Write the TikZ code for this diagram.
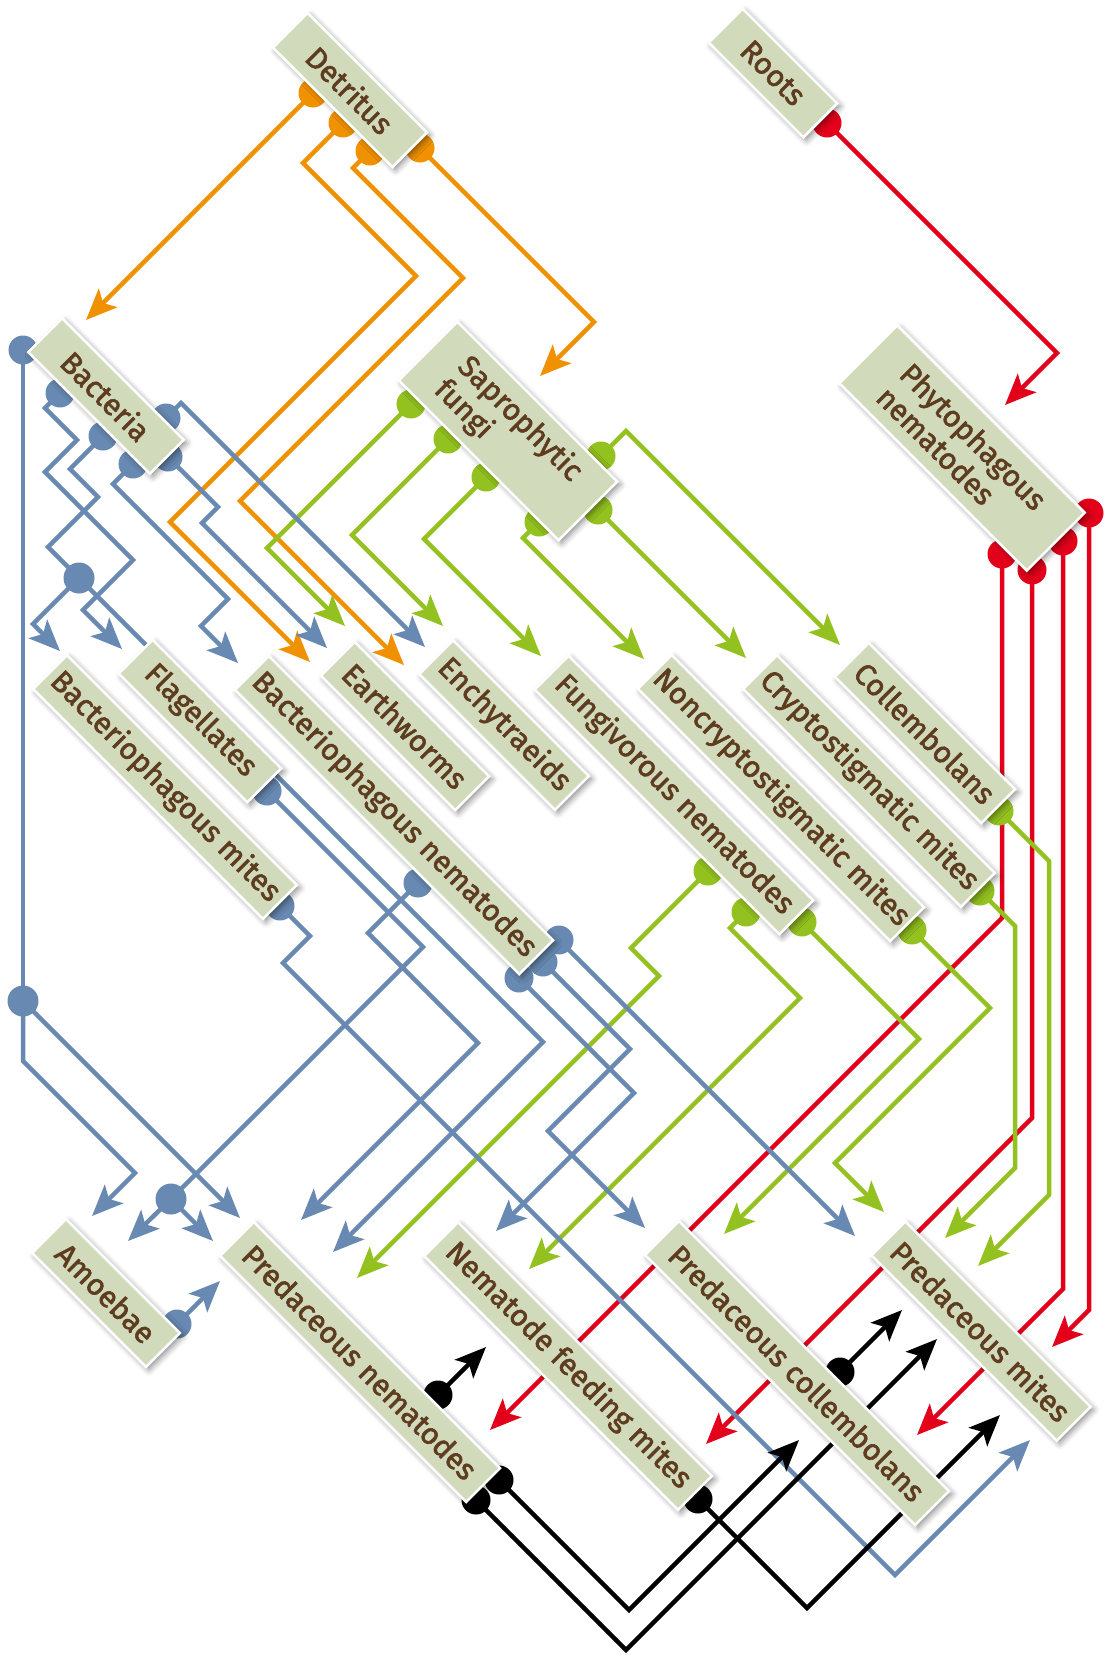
\documentclass[tikz,border=0pt]{standalone}
\usepackage{fontspec}
\newfontfamily\boxfont{Fira Sans}[FakeBold=2]
\usetikzlibrary{arrows.meta,shadows.blur}
\definecolor{boxfill}{RGB}{209,218,187}
\definecolor{boxtext}{RGB}{94,60,32}
\definecolor{cblue}{RGB}{104,137,178}
\definecolor{corange}{RGB}{239,145,0}
\definecolor{cgreen}{RGB}{147,193,31}
\definecolor{cred}{RGB}{226,0,26}
\pgfdeclarelayer{lines}
\pgfdeclarelayer{dots}
\pgfsetlayers{lines,dots,main}
\tikzset{
  taxon/.style={rotate=-45, fill=boxfill, draw=white, line width=2.5pt,
    text=boxtext, font=\boxfont\fontsize{30}{33}\selectfont, inner sep=0pt,
    minimum height=48pt, align=center,
    blur shadow={shadow xshift=3pt, shadow yshift=-3pt, shadow blur radius=6pt, shadow opacity=45}},
  dot/.style={circle, fill=#1, minimum size=29pt, inner sep=0pt},
  bigdot/.style={circle, fill=#1, minimum size=31pt, inner sep=0pt},
  link/.style={line width=4.5pt, draw=#1, -{Stealth[length=31pt,width=26pt,inset=7pt]}},
  plain/.style={line width=4.5pt, draw=#1}
}
\newcommand\dotat[3]{\node[dot=#1] (#2) at #3 {};}
\begin{document}
\begin{tikzpicture}[x=1pt,y=-1pt]
\useasboundingbox (0,0) rectangle (1113,1657);

% ---------- boxes ----------
\node[taxon, minimum width=169pt, minimum height=49pt] (det) at (350,90) {Detritus};
\node[taxon, minimum width=134pt] (roots) at (773,73) {Roots};
\node[taxon, minimum width=172pt] (bact) at (106,396) {Bacteria};
\node[taxon, minimum width=226pt, minimum height=83pt, align=left] (sapro) at (508,431) {Saprophytic\\fungi};
\node[taxon, minimum width=265pt, minimum height=82pt, align=left] (phyto) at (962,448) {Phytophagous\\nematodes};
\node[taxon, minimum width=325pt] (bmites) at (165,787) {Bacteriophagous mites};
\node[taxon, minimum width=182pt] (flag) at (200,721) {Flagellates};
\node[taxon, minimum width=402pt] (bnem) at (394,815) {Bacteriophagous nematodes};
\node[taxon, minimum width=190pt] (earth) at (405,726) {Earthworms};
\node[taxon, minimum width=192pt] (ench) at (504,725) {Enchytraeids};
\node[taxon, minimum width=346pt] (fnem) at (674,795) {Fungivorous nematodes};
\node[taxon, minimum width=357pt] (ncm) at (781,798) {Noncryptostigmatic mites};
\node[taxon, minimum width=308pt] (cm) at (869,781) {Cryptostigmatic mites};
\node[taxon, minimum width=207pt] (coll) at (925,733) {Collembolans};
\node[taxon, minimum width=161pt] (amoeb) at (106,1293) {Amoebae};
\node[taxon, minimum width=348pt] (pnem) at (360,1362) {Predaceous nematodes};
\node[taxon, minimum width=359pt] (nfm) at (568,1366) {Nematode feeding mites};
\node[taxon, minimum width=382pt] (pcoll) at (797,1373) {Predaceous collembolans};
\node[taxon, minimum width=262pt] (pmites) at (981,1331) {Predaceous mites};

% ---------- attachment dots ----------
\begin{pgfonlayer}{dots}
\dotat{corange}{od1}{(313,93)}
\dotat{corange}{od2}{(343,123)}
\dotat{corange}{od3}{(370,151)}
\dotat{corange}{od4}{(420,148)}
\dotat{cred}{rr}{(827,123)}
\dotat{cred}{p1}{(1002,554)}
\dotat{cred}{p2}{(1032,570)}
\dotat{cred}{p3}{(1063,541)}
\dotat{cred}{p4}{(1089,513)}
\dotat{cgreen}{g1}{(411,404)}
\dotat{cgreen}{g2}{(448,439)}
\dotat{cgreen}{g3}{(486,477)}
\dotat{cgreen}{g4}{(539,522)}
\dotat{cgreen}{g5}{(598,510)}
\dotat{cgreen}{g6}{(601,456)}
\dotat{cgreen}{f1}{(708,871)}
\dotat{cgreen}{f2}{(746,912)}
\dotat{cgreen}{f3}{(802,922)}
\dotat{cgreen}{n1}{(912,930)}
\dotat{cgreen}{c1}{(980,891)}
\dotat{cgreen}{co1}{(999,811)}
\dotat{cblue}{b1}{(23,350)}
\dotat{cblue}{b2}{(60,393)}
\dotat{cblue}{b3}{(103,436)}
\dotat{cblue}{b4}{(133,464)}
\dotat{cblue}{b5}{(166,418)}
\dotat{cblue}{b6}{(168,457)}
\dotat{cblue}{fl}{(267,791)}
\dotat{cblue}{bm}{(280,906)}
\dotat{cblue}{bn1}{(418,883)}
\dotat{cblue}{bn2}{(519,978)}
\dotat{cblue}{bn3}{(543,962)}
\dotat{cblue}{bn4}{(559,940)}
\dotat{cblue}{am}{(177,1324)}
\node[bigdot=cblue] (j1) at (79,578) {};
\node[bigdot=cblue] (j2) at (23,1001) {};
\node[bigdot=cblue] (j3) at (171,1199) {};
\dotat{black}{pn1}{(438,1395)}
\dotat{black}{pn2}{(499,1480)}
\dotat{black}{pn3}{(476,1500)}
\dotat{black}{nf}{(698,1499)}
\dotat{black}{pc}{(840,1372)}
\end{pgfonlayer}

% ---------- connectors ----------
\begin{pgfonlayer}{lines}
% detritus
\draw[link=corange] (od1.center) -- (86,320) coordinate (to1);
\draw[link=corange] (od2.center) -- (303,163) -- (416,276) -- (170,522) -- (310,662) coordinate (to2);
\draw[link=corange] (od3.center) -- (353,168) -- (463,278) -- (240,501) -- (404,665) coordinate (to3);
\draw[link=corange] (od4.center) -- (594,322) -- (540,376) coordinate (to4);
% roots and phytophagous nematodes
\draw[link=cred] (rr.center) -- (1057,353) -- (1005,405) coordinate (tr0);
\draw[link=cred] (p1.center) -- (1002,918) -- (490,1430) coordinate (tr1);
\draw[link=cred] (p2.center) -- (1032,1118) -- (706,1444) coordinate (tr2);
\draw[link=cred] (p3.center) -- (1063,1289) -- (917,1435) coordinate (tr3);
\draw[link=cred] (p4.center) -- (1089,1310) -- (1052,1347) coordinate (tr4);
% saprophytic fungi
\draw[link=cgreen] (g1.center) -- (267,548) -- (345,626) coordinate (tg1);
\draw[link=cgreen] (g2.center) -- (352,535) -- (443,626) coordinate (tg2);
\draw[link=cgreen] (g3.center) -- (424,539) -- (541,656) coordinate (tg3);
\draw[link=cgreen] (g4.center) -- (523,538) -- (644,659) coordinate (tg4);
\draw[link=cgreen] (g5.center) -- (746,658) coordinate (tg5);
\draw[link=cgreen] (g6.center) -- (626,431) -- (840,645) coordinate (tg6);
% fungal feeders
\draw[link=cgreen] (f1.center) -- (631,948) -- (659,976) -- (357,1278) coordinate (tf1);
\draw[link=cgreen] (f2.center) -- (730,928) -- (800,998) -- (529,1269) coordinate (tf2);
\draw[link=cgreen] (f3.center) -- (919,1039) -- (724,1234) coordinate (tf3);
\draw[link=cgreen] (n1.center) -- (990,1008) -- (835,1163) -- (884,1212) coordinate (tn1);
\draw[link=cgreen] (c1.center) -- (1015,926) -- (1015,1168) -- (945,1238) coordinate (tc1);
\draw[link=cgreen] (co1.center) -- (1049,861) -- (1049,1195) -- (978,1266) coordinate (tco1);
% bacteria
\draw[plain=cblue] (b1.center) -- (j2.center);
\draw[link=cblue] (j2.center) -- (240,1218) coordinate (tj2a);
\draw[link=cblue] (j2.center) -- (23,1061) -- (135,1173) -- (92,1216) coordinate (tj2b);
\draw[link=cblue] (b2.center) -- (45,408) -- (77,440) -- (45,472) -- (133,560) -- (83,610) -- (122,649) coordinate (tb2);
\draw[plain=cblue] (b3.center) -- (70,469) -- (98,497) -- (48,547) -- (j1.center);
\draw[link=cblue] (j1.center) -- (33,624) -- (60,651) coordinate (tj1a);
\draw[link=cblue] (j1.center) -- (543,1042) -- (333,1252) coordinate (tj1b);
\draw[link=cblue] (b4.center) -- (113,484) -- (228,599) -- (201,626) -- (238,663) coordinate (tb4);
\draw[link=cblue] (b5.center) -- (181,403) -- (425,647) coordinate (tb5);
\draw[link=cblue] (b6.center) -- (218,507) -- (202,523) -- (327,648) coordinate (tb6);
% bacterial feeders
\draw[plain=cblue] (fl.center) -- (423,947) -- (j3.center);
\draw[link=cblue] (j3.center) -- (128,1241) coordinate (tj3a);
\draw[link=cblue] (j3.center) -- (213,1241) coordinate (tj3b);
\draw[link=cblue] (bm.center) -- (310,936) -- (283,963) -- (895,1575) -- (1030,1440) coordinate (tbm);
\draw[link=cblue] (bn1.center) -- (368,933) -- (478,1043) -- (301,1220) coordinate (tbn1);
\draw[link=cblue] (bn2.center) -- (634,1093) -- (496,1231) coordinate (tbn2);
\draw[link=cblue] (bn3.center) -- (630,1049) -- (548,1131) -- (645,1228) coordinate (tbn3);
\draw[link=cblue] (bn4.center) -- (855,1236) coordinate (tbn4);
\draw[link=cblue] (am.center) -- (220,1281) coordinate (tam);
% predators
\draw[link=black] (pn1.center) -- (486,1347) coordinate (tpn1);
\draw[link=black] (pn2.center) -- (629,1610) -- (799,1440) coordinate (tpn2);
\draw[link=black] (pn3.center) -- (626,1650) -- (937,1339) coordinate (tpn3);
\draw[link=black] (nf.center) -- (807,1608) -- (1000,1415) coordinate (tnf);
\draw[link=black] (pc.center) -- (902,1310) coordinate (tpc);
\end{pgfonlayer}
\end{tikzpicture}
\end{document}
